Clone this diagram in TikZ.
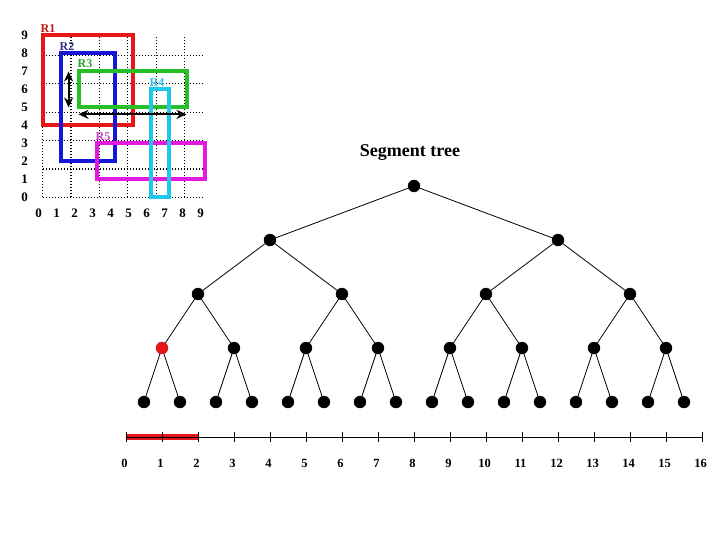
\documentclass[tikz,border=0pt]{standalone}
\usepackage{fontspec}
\setmainfont{Liberation Serif}
\usepackage{tikz-qtree}
\usetikzlibrary{arrows.meta}

\definecolor{rOne}{RGB}{232,22,22}
\definecolor{rTwo}{RGB}{22,22,215}
\definecolor{rThree}{RGB}{40,190,40}
\definecolor{rFour}{RGB}{30,200,235}
\definecolor{rFive}{RGB}{225,25,225}
\definecolor{lOne}{RGB}{190,25,25}
\definecolor{lTwo}{RGB}{50,50,150}
\definecolor{lThree}{RGB}{45,165,45}
\definecolor{lFour}{RGB}{40,190,225}
\definecolor{lFive}{RGB}{205,60,205}

\tikzset{
  dot/.style={circle, fill=black, draw=black, inner sep=0pt, outer sep=0pt,
    minimum size=12pt},
  hit/.style={dot, fill=rOne, draw=lOne},
  gnum/.style={inner sep=0pt, font=\bfseries\fontsize{13}{15}\selectfont},
  num/.style={inner sep=0pt, font=\bfseries\fontsize{12.5}{14}\selectfont},
  rlab/.style={inner sep=0pt, anchor=south west, xshift=-1pt, yshift=2.5pt,
    font=\bfseries\fontsize{12}{14}\selectfont},
  rect/.style={line width=4pt},
  both/.style={{Stealth[length=10pt,width=9pt]}-{Stealth[length=10pt,width=9pt]},
    line width=2pt},
}

\begin{document}
\begin{tikzpicture}[x=1pt, y=1pt]
  \useasboundingbox (0,0) rectangle (720,540);
  % the rectangles on the grid
  \begin{scope}[shift={(42.5,342.5)}, x=18pt, y=18pt]
    \draw[line width=1.1pt, dash pattern=on 1.5pt off 1.5pt] (0,0) grid (9,9);
    \foreach \i in {0,...,9} {
      \node[gnum] (gx\i) at (\i-0.22,-0.86) {\i};
      \node[gnum] (gy\i) at (-1,\i) {\i};
    }
    \draw[rect, rOne] (0,4) rectangle (5,9);
    \draw[rect, rTwo] (1,2) rectangle (4,8);
    \draw[rect, rThree] (2,5) rectangle (8,7);
    \draw[rect, rFive] (3,1) rectangle (9,3);
    \draw[rect, rFour] (6,0) rectangle (7,6);
    \node[rlab, text=lOne, xshift=-1pt] (lab1) at (0,9) {R1};
    \node[rlab, text=lTwo] (lab2) at (1,8) {R2};
    \node[rlab, text=lThree, yshift=1pt] (lab3) at (2,7) {R3};
    \node[rlab, text=lFour] (lab4) at (6,6) {R4};
    \node[rlab, text=lFive] (lab5) at (3,3) {R5};
    \draw[both] (1.45,5) -- (1.45,7);
    \draw[both] (2,4.62) -- (8,4.62);
  \end{scope}

  \node[anchor=base, inner sep=0pt, font=\bfseries\fontsize{18}{20}\selectfont]
    (title) at (410,383) {Segment tree};

  \begin{scope}[shift={(414,354)}, level distance=54pt, sibling distance=23.6pt,
      edge from parent/.style={draw, line width=.8pt},
      edge from parent path={(\tikzparentnode) -- (\tikzchildnode)}]
  \Tree
  [.\node[dot](s0-16){};
    [.\node[dot](s0-8){};
      [.\node[dot](s0-4){};
        [.\node[hit](s0-2){}; \node[dot](s0-1){}; \node[dot](s1-2){}; ]
        [.\node[dot](s2-4){}; \node[dot](s2-3){}; \node[dot](s3-4){}; ] ]
      [.\node[dot](s4-8){};
        [.\node[dot](s4-6){}; \node[dot](s4-5){}; \node[dot](s5-6){}; ]
        [.\node[dot](s6-8){}; \node[dot](s6-7){}; \node[dot](s7-8){}; ] ] ]
    [.\node[dot](s8-16){};
      [.\node[dot](s8-12){};
        [.\node[dot](s8-10){}; \node[dot](s8-9){}; \node[dot](s9-10){}; ]
        [.\node[dot](s10-12){}; \node[dot](s10-11){}; \node[dot](s11-12){}; ] ]
      [.\node[dot](s12-16){};
        [.\node[dot](s12-14){}; \node[dot](s12-13){}; \node[dot](s13-14){}; ]
        [.\node[dot](s14-16){}; \node[dot](s14-15){}; \node[dot](s15-16){}; ] ] ] ]
  \end{scope}

  % the number line
  \draw[rOne, line width=6pt] (126,103) -- (198,103);
  \draw[line width=.8pt] (126,103) -- (702,103);
  \foreach \k in {0,...,16} {
    \draw[line width=.8pt] (126+36*\k,98) -- (126+36*\k,108);
    \node[num] (t\k) at (124.5+36*\k,77) {\k};
  }
\end{tikzpicture}
\end{document}
